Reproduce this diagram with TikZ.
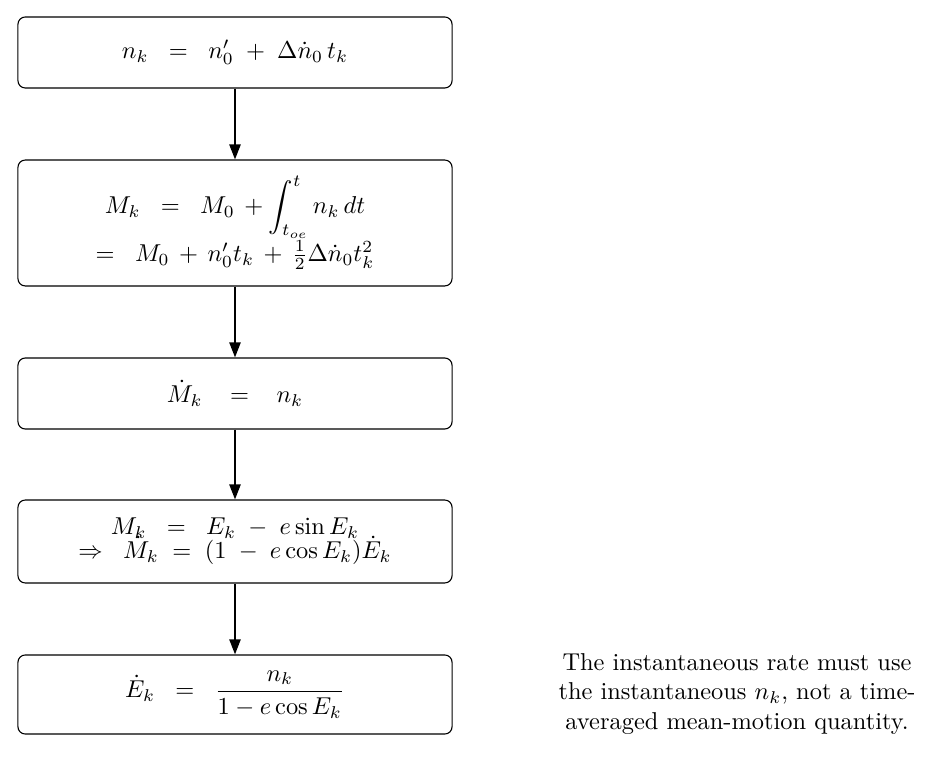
\documentclass[tikz,border=0pt]{standalone}
\usepackage{amsmath}
\usetikzlibrary{arrows.meta}
\begin{document}
\begin{tikzpicture}[x=0.4098pt,y=-0.4098pt,
  eqbox/.style={draw,rounded corners=3pt,line width=0.45pt,minimum width=177.9pt,align=center,inner sep=2pt},
  flow/.style={line width=0.8pt,-{Triangle[length=6.2pt,width=4.6pt]}}]
\useasboundingbox (0,0) rectangle (948,762);
\node[eqbox,minimum height=29.1pt] (b1) at (235,52.5) {$n_k \;\;=\;\; n'_0 \;+\; \Delta\dot{n}_0\,t_k$};
\node[eqbox,minimum height=51.6pt] (b2) at (235,223) {$\displaystyle M_k \;\;=\;\; M_0 \,+ \int_{t_{oe}}^{t} n_k\,dt$\\[0pt] $=\;\; M_0 \,+\, n'_0 t_k \,+\, \tfrac{1}{2}\Delta\dot{n}_0 t_k^2$};
\node[eqbox,minimum height=29.1pt] (b3) at (235,393.5) {$\dot{M}_k \hspace{0.85em}=\hspace{0.85em} n_k$};
\node[eqbox,minimum height=34pt] (b4) at (235,541.5) {$M_k \;\;=\;\; E_k \;-\; e\sin E_k$\\[-2pt] $\Rightarrow\;\; \dot{M}_k \;=\; (1 \;-\; e\cos E_k)\dot{E}_k$};
\node[eqbox,minimum height=32.4pt] (b5) at (235,694.5) {$\dot{E}_k \;\;=\;\; \dfrac{n_k}{1-e\cos E_k}$};
\node[align=center] (note) at (737,694) {The instantaneous rate must use\\ the instantaneous $n_k$, not a time-\\ averaged mean-motion quantity.};
\draw[flow] (b1) -- (b2);
\draw[flow] (b2) -- (b3);
\draw[flow] (b3) -- (b4);
\draw[flow] (b4) -- (b5);
\end{tikzpicture}
\end{document}
